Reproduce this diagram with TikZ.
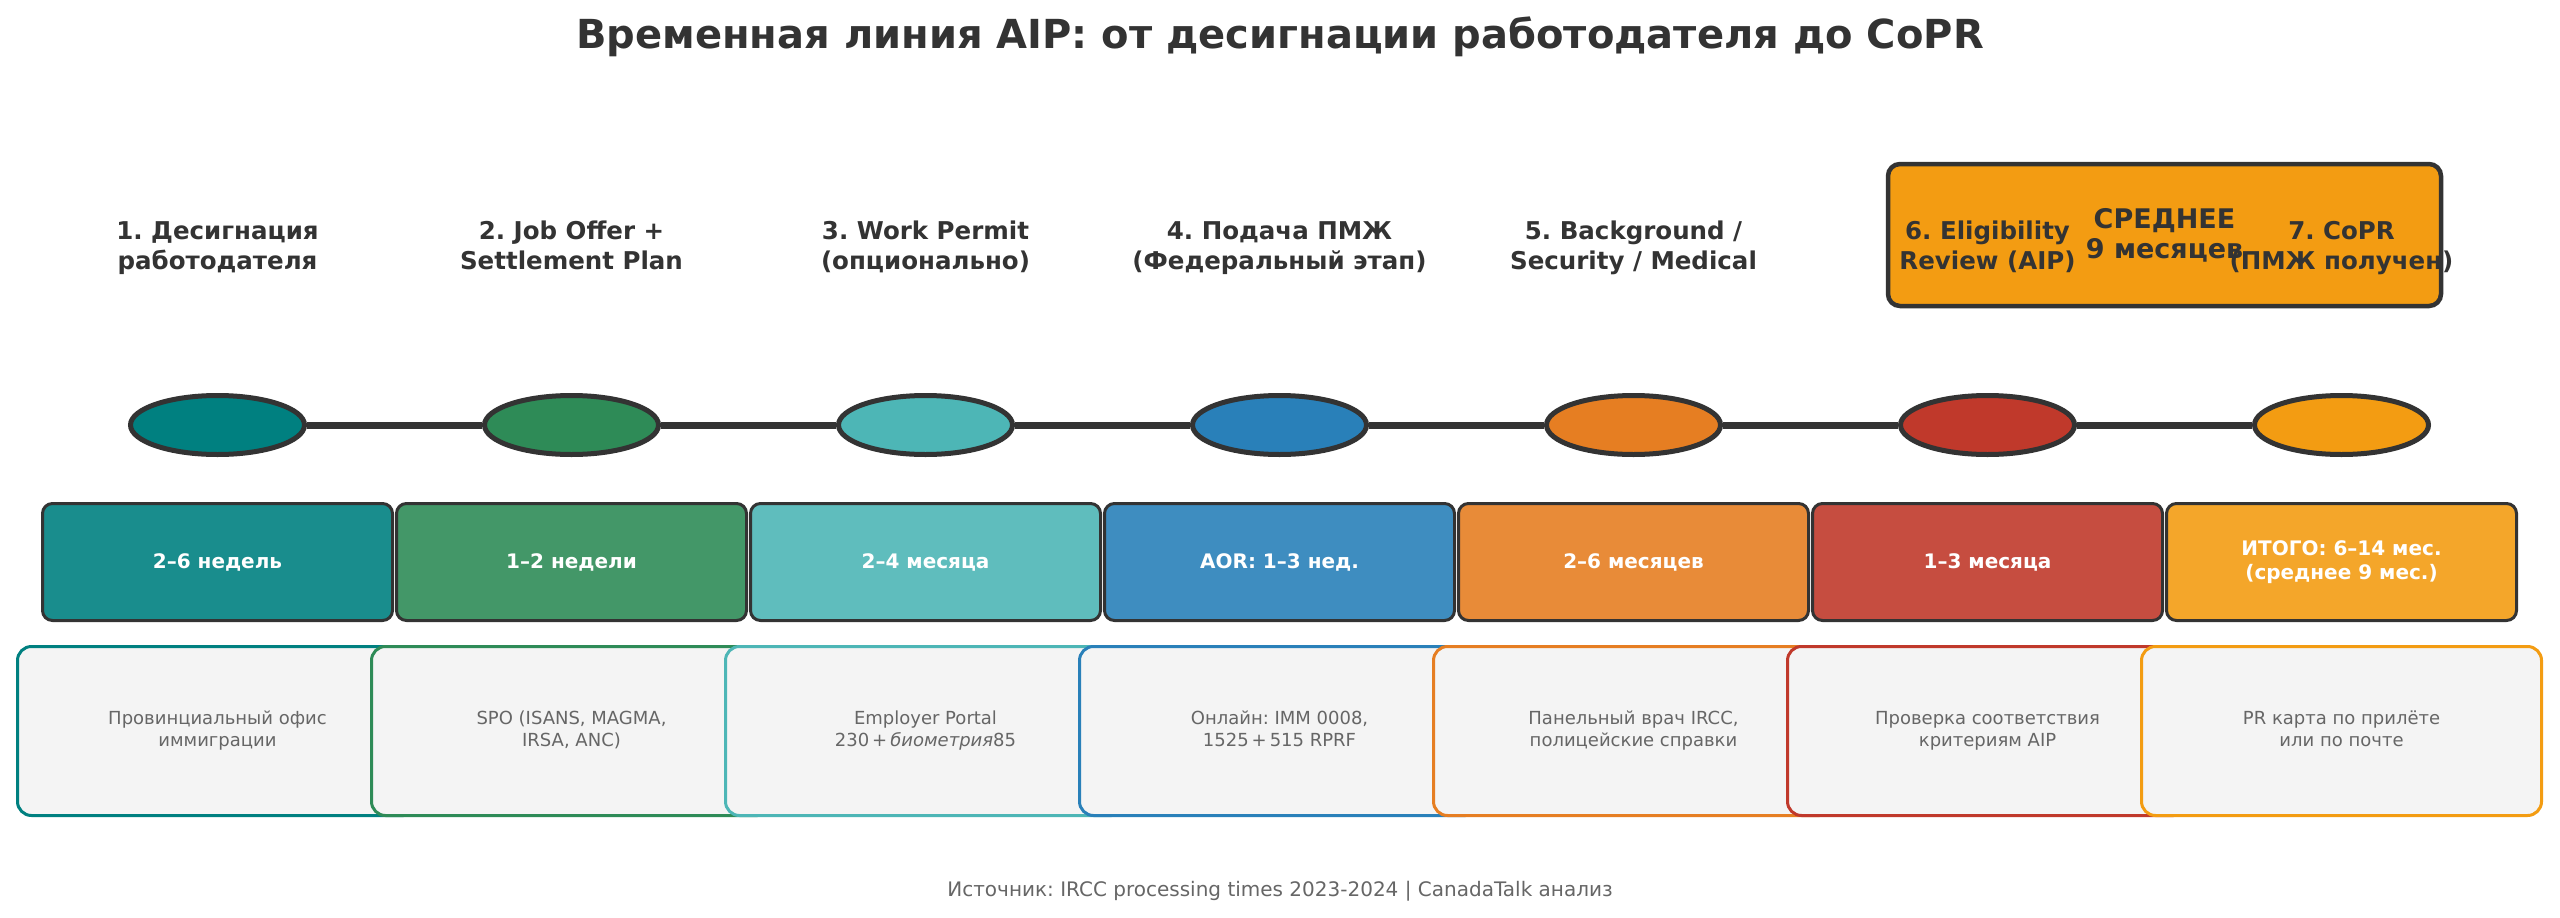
\documentclass[tikz,border=0pt]{standalone}
\usepackage{fontspec}
\setmainfont{DejaVu Sans}
\usetikzlibrary{shapes.geometric}
\definecolor{dark}{HTML}{333333}
\definecolor{descfill}{HTML}{F4F4F4}
\definecolor{desctext}{HTML}{666666}
\definecolor{cA}{HTML}{008080}
\definecolor{cB}{HTML}{2E8B57}
\definecolor{cC}{HTML}{4DB6B6}
\definecolor{cD}{HTML}{2980B9}
\definecolor{cE}{HTML}{E67E22}
\definecolor{cF}{HTML}{C0392B}
\definecolor{cG}{HTML}{F39C12}
\tikzset{
  dot/.style={ellipse, draw=dark, line width=5pt, minimum width=174pt, minimum height=59pt, inner sep=0pt, fill=#1},
  conn/.style={draw=dark, line width=7pt},
  durbox/.style={rounded corners=10pt, draw=dark, line width=3pt, minimum width=350pt, minimum height=117pt, text=white, font=\bfseries\fontsize{20}{24}\selectfont, align=center, fill=#1!90!white},
  descbox/.style={rounded corners=14pt, draw=#1, fill=descfill, line width=3pt, minimum width=400pt, minimum height=169pt, text=desctext, font=\fontsize{18}{22}\selectfont, align=center},
  lbl/.style={text=dark, font=\bfseries\fontsize{24.5}{30}\selectfont, align=center},
  avgbox/.style={rounded corners=12pt, draw=dark, line width=4.5pt, fill=cG, minimum width=553pt, minimum height=142pt, text=dark, font=\bfseries\fontsize{27}{30}\selectfont, align=center},
  ttl/.style={text=dark, font=\bfseries\fontsize{40}{46}\selectfont},
  foot/.style={text=desctext, font=\fontsize{20}{24}\selectfont}
}
\begin{document}
\frenchspacing
\begin{tikzpicture}[x=1pt,y=-1pt]
\path[use as bounding box, fill=white] (0,0) rectangle (2560,918);

\node[ttl, anchor=base] (title) at (1280,48) {Временная линия AIP: от десигнации работодателя до CoPR};

% timeline dots
\node[dot=cA] (d1) at (217.5,425) {};
\node[dot=cB] (d2) at (571.5,425) {};
\node[dot=cC] (d3) at (925.5,425) {};
\node[dot=cD] (d4) at (1279.5,425) {};
\node[dot=cE] (d5) at (1633.5,425) {};
\node[dot=cF] (d6) at (1987.5,425) {};
\node[dot=cG] (d7) at (2341.5,425) {};
\draw[conn] (d1) -- (d2);
\draw[conn] (d2) -- (d3);
\draw[conn] (d3) -- (d4);
\draw[conn] (d4) -- (d5);
\draw[conn] (d5) -- (d6);
\draw[conn] (d6) -- (d7);

% duration boxes
\node[durbox=cA] (t1) at (217.5,562) {2–6 недель};
\node[durbox=cB] (t2) at (571.5,562) {1–2 недели};
\node[durbox=cC] (t3) at (925.5,562) {2–4 месяца};
\node[durbox=cD] (t4) at (1279.5,562) {AOR: 1–3 нед.};
\node[durbox=cE] (t5) at (1633.5,562) {2–6 месяцев};
\node[durbox=cF] (t6) at (1987.5,562) {1–3 месяца};
\node[durbox=cG] (t7) at (2341.5,562) {ИТОГО: 6–14 мес.\\(среднее 9 мес.)};

% description boxes
\node[descbox=cA] (e1) at (217.5,731) {\strut Провинциальный офис\\иммиграции\strut};
\node[descbox=cB] (e2) at (571.5,731) {\strut SPO (ISANS, MAGMA,\\IRSA, ANC)\strut};
\node[descbox=cC] (e3) at (925.5,731) {\strut Employer Portal\\230\,+\,\textit{биометрия}85\strut};
\node[descbox=cD] (e4) at (1279.5,731) {\strut Онлайн: IMM 0008,\\1525\,+\,515 RPRF\strut};
\node[descbox=cE] (e5) at (1633.5,731) {\strut Панельный врач IRCC,\\полицейские справки\strut};
\node[descbox=cF] (e6) at (1987.5,731) {\strut Проверка соответствия\\критериям AIP\strut};
\node[descbox=cG] (e7) at (2341.5,731) {\strut PR карта по прилёте\\или по почте\strut};

% average box
\node[avgbox] (avg) at (2164.5,235) {СРЕДНЕЕ\\9 месяцев};

% step labels
\node[lbl] (l1) at (217.5,248) {\strut 1. Десигнация\\работодателя\strut};
\node[lbl] (l2) at (571.5,248) {\strut 2. Job Offer +\\Settlement Plan\strut};
\node[lbl] (l3) at (925.5,248) {\strut 3. Work Permit\\(опционально)\strut};
\node[lbl] (l4) at (1279.5,248) {\strut 4. Подача ПМЖ\\(Федеральный этап)\strut};
\node[lbl] (l5) at (1633.5,248) {\strut 5. Background /\\Security / Medical\strut};
\node[lbl] (l6) at (1987.5,248) {\strut 6. Eligibility\\Review (AIP)\strut};
\node[lbl] (l7) at (2341.5,248) {\strut 7. CoPR\\(ПМЖ получен)\strut};

\node[foot, anchor=base] (src) at (1280,896) {Источник: IRCC processing times 2023-2024 | CanadaTalk анализ};
\end{tikzpicture}
\end{document}
